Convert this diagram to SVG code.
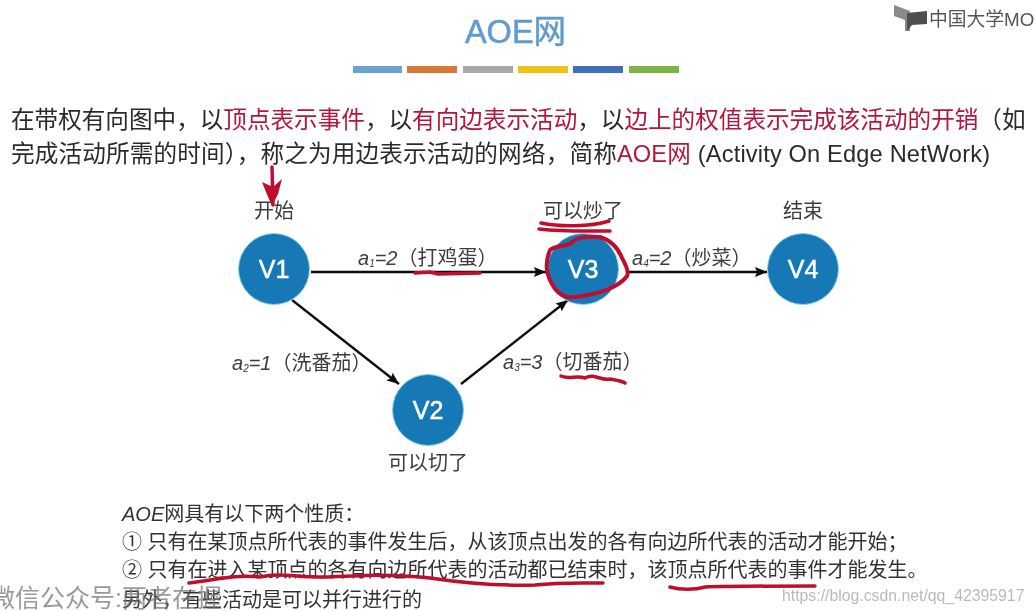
<svg xmlns="http://www.w3.org/2000/svg" width="1035" height="611" viewBox="0 0 1035 611">
<defs>
<marker id="arr" markerUnits="userSpaceOnUse" markerWidth="13" markerHeight="11" refX="12" refY="5.500" orient="auto"><path d="M0,0.500 L12,5.500 L0,10.500 L2,5.500 Z" fill="#111"/></marker>
<filter id="soft" x="0" y="0" width="100%" height="100%"><feGaussianBlur stdDeviation="0.45"/></filter>
</defs>
<style>
text{font-family:"Liberation Sans","Noto Sans CJK SC",sans-serif}
.t{font-size:23.6px;fill:#2b2b2b}
.r{fill:#b5153c}
.l{font-size:20px;fill:#3d3d3d}
.i{font-style:italic}
.b{font-size:20px;fill:#333}
.n{fill:#1379b5;stroke:#8fd0ea;stroke-width:1}
.nt{font-size:25px;fill:#fff;stroke:#fff;stroke-width:.5;text-anchor:middle}
.e{stroke:#111;stroke-width:2.300;fill:none;marker-end:url(#arr)}
.ink{stroke:#c00f2e;fill:none;stroke-linecap:round;stroke-linejoin:round}
.s{font-size:10px}
</style>
<rect width="1035" height="611" fill="#fff"/>
<g filter="url(#soft)">
<text x="515.500" y="43" font-size="32.500" fill="#5f9bcb" stroke="#5f9bcb" stroke-width=".5" text-anchor="middle">AOE网</text>
<g>
<rect x="353" y="66" width="49" height="7" fill="#6ba3d0"/>
<rect x="407" y="66" width="50" height="7" fill="#d9783a"/>
<rect x="463" y="66" width="50" height="7" fill="#a8a8a8"/>
<rect x="518" y="66" width="50" height="7" fill="#eec218"/>
<rect x="573" y="66" width="50" height="7" fill="#3f6fb8"/>
<rect x="629" y="66" width="50" height="7" fill="#7eb445"/>
</g>
<path d="M894,5 L910,11 L910,31 L905,31 L905,20 L894,16 Z" fill="#8a8a8a"/>
<path d="M907,13 L927,11 L927,24 L912,25 L907,31 Z" fill="#4f4f4f"/>
<text x="929" y="26" font-size="18.800" fill="#555">中国大学MO</text>
<text class="t" x="11" y="128">在带权有向图中，以<tspan class="r">顶点表示事件</tspan>，以<tspan class="r">有向边表示活动</tspan>，以<tspan class="r">边上的权值表示完成该活动的开销</tspan>（如</text>
<text class="t" x="11" y="162" textLength="979">完成活动所需的时间），称之为用边表示活动的网络，简称<tspan class="r">AOE网</tspan> (Activity On Edge NetWork)</text>
<g id="connectors">
<path class="e" d="M311,272 L546,272"/>
<path class="e" d="M628,272 L767,272"/>
<path class="e" d="M292,300 L399,384"/>
<path class="e" d="M461,384 L568,300"/>
</g>
<g id="V1"><circle class="n" cx="274" cy="269" r="35.500"/><text class="nt" x="274" y="278">V1</text><text class="l" x="274" y="218" text-anchor="middle">开始</text></g>
<g id="V2"><circle class="n" cx="428" cy="410" r="35.500"/><text class="nt" x="428" y="419">V2</text><text class="l" x="428" y="470" text-anchor="middle">可以切了</text></g>
<g id="V3"><circle class="n" cx="583" cy="269" r="35.500"/><text class="nt" x="583" y="278">V3</text><text class="l" x="583" y="218" text-anchor="middle">可以炒了</text></g>
<g id="V4"><circle class="n" cx="803" cy="269" r="35.500"/><text class="nt" x="803" y="278">V4</text><text class="l" x="803" y="218" text-anchor="middle">结束</text></g>
<text class="l" x="358" y="265"><tspan class="i">a</tspan><tspan class="i s" dy="2">1</tspan><tspan class="i" dy="-2">=2</tspan>（打鸡蛋）</text>
<text class="l" x="632" y="265"><tspan class="i">a</tspan><tspan class="i s" dy="2">4</tspan><tspan class="i" dy="-2">=2</tspan>（炒菜）</text>
<text class="l" x="232" y="370"><tspan class="i">a</tspan><tspan class="i s" dy="2">2</tspan><tspan class="i" dy="-2">=1</tspan>（洗番茄）</text>
<text class="l" x="503" y="369"><tspan class="i">a</tspan><tspan class="i s" dy="2">3</tspan><tspan class="i" dy="-2">=3</tspan>（切番茄）</text>
<text class="b" x="122" y="521"><tspan class="i">AOE</tspan>网具有以下两个性质：</text>
<text class="b" x="122" y="549">① 只有在某顶点所代表的事件发生后，从该顶点出发的各有向边所代表的活动才能开始；</text>
<text class="b" x="122" y="577">② 只有在进入某顶点的各有向边所代表的活动都已结束时，该顶点所代表的事件才能发生。</text>
<text class="b" x="122" y="607">另外，有些活动是可以并行进行的</text>
<text x="-10" y="607" font-size="25" fill="#777" fill-opacity=".75">微信公众号:两者在握</text>
<text x="782" y="601" font-size="15.800" fill="#bbb">https://blog.csdn.net/qq_42395917</text>
<g id="ink">
<path class="ink" stroke-width="3.500" d="M272,167 L273,205"/>
<path d="M262,182 L273,187 L282,179 L278,194 L272,206 L266,192 Z" fill="#c00f2e"/>
<path class="ink" stroke-width="3.500" d="M541,223 C560,227 590,227 609,221"/>
<path class="ink" stroke-width="3.500" d="M539,229 C565,232 590,231 610,231"/>
<path class="ink" stroke-width="3.500" d="M415,273 L430,272 L438,274 L480,273"/>
<path class="ink" stroke-width="4" d="M550,250 C556,245 565,247 571,243 C576,237 590,236 600,237 C610,240 618,248 622,258 C626,265 629,272 627,276 C622,283 610,290 597,293 C585,296 575,298 567,297 C560,295 555,290 552,284 C547,275 544,265 550,250 Z"/>
<path class="ink" stroke-width="3.500" d="M561,376 C570,380 575,375 585,378 C595,373 600,381 610,379 C615,380 622,381 625,383"/>
<path class="ink" stroke-width="3.500" d="M189,583 C215,580 235,574 260,577 C280,572 300,578 325,577 C370,575 390,574 430,578 C470,584 500,586 535,585 C560,582 585,583 603,583"/>
<path class="ink" stroke-width="3.500" d="M670,587 C680,590 695,590 705,587 C730,586 790,586 815,586"/>
</g>
</g>
</svg>
